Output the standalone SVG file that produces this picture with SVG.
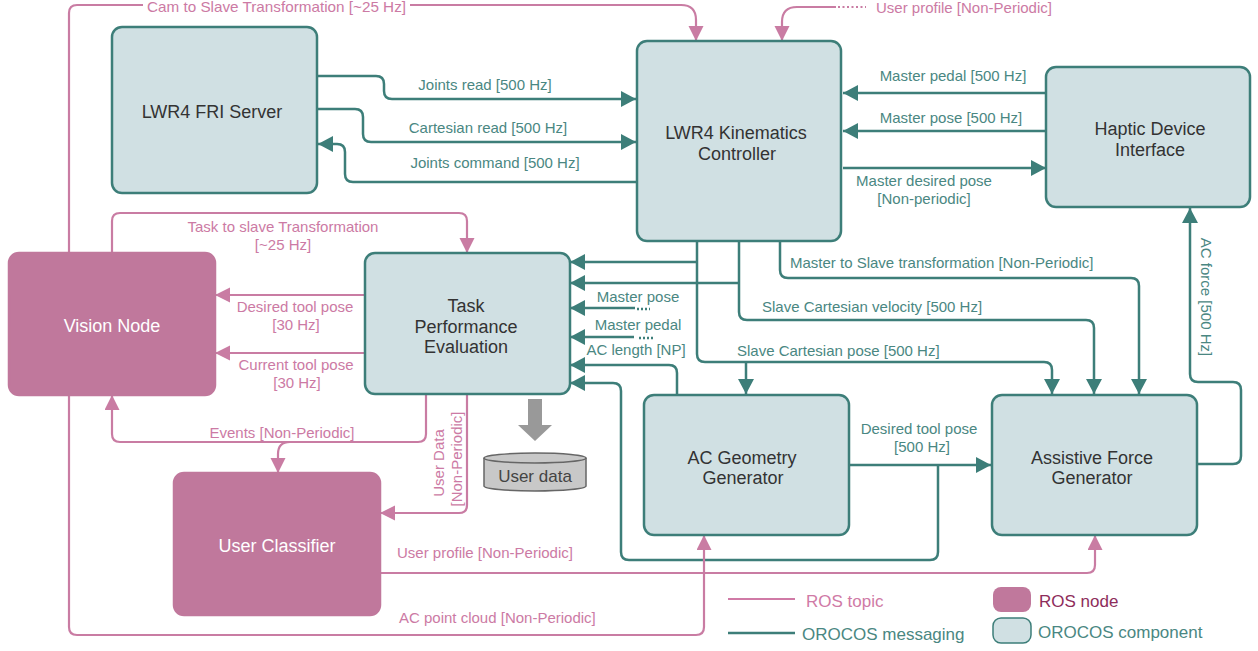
<svg xmlns="http://www.w3.org/2000/svg" width="1258" height="651" viewBox="0 0 1258 651">
<style>
.comp rect{fill:#d0e0e3;stroke:#3d7e79;stroke-width:2.5}
.ros rect{fill:#c0789c;stroke:#c0789c;stroke-width:2.5}
.nt{font-family:"Liberation Sans",Arial,sans-serif;font-size:18px;text-anchor:middle;fill:#333}
.rt{font-family:"Liberation Sans",Arial,sans-serif;font-size:18px;text-anchor:middle;fill:#fff}
.t{fill:none;stroke:#3d7e79;stroke-width:2.5}
.p{fill:none;stroke:#c97ca3;stroke-width:2.2}
.lt{font-family:"Liberation Sans",Arial,sans-serif;font-size:15px;fill:#4a8782}
.lp{font-family:"Liberation Sans",Arial,sans-serif;font-size:15px;fill:#cc7aa4}
.m{text-anchor:middle}
.lg{font-family:"Liberation Sans",Arial,sans-serif;font-size:17px}
</style>
<defs>
<marker id="at" markerUnits="userSpaceOnUse" markerWidth="16" markerHeight="16" refX="15" refY="8" orient="auto"><path d="M0,0 L15,8 L0,16 z" fill="#3d7e79"/></marker>
<marker id="ap" markerUnits="userSpaceOnUse" markerWidth="16" markerHeight="16" refX="15" refY="7.5" orient="auto"><path d="M0,0 L15,7.5 L0,15 z" fill="#c97ca3"/></marker>
</defs>

<g id="connectors">
<!-- OROCOS -->
<path class="t" marker-end="url(#at)" d="M317,76 H376 Q384,76 384,84 V91 Q384,99 392,99 H636"/>
<path class="t" marker-end="url(#at)" d="M317,109 H355 Q363,109 363,117 V134 Q363,142 371,142 H636"/>
<path class="t" marker-end="url(#at)" d="M636,182 H353 Q345,182 345,174 V152 Q345,144 337,144 H318"/>
<path class="t" marker-end="url(#at)" d="M1046,93 H843"/>
<path class="t" marker-end="url(#at)" d="M1046,131 H843"/>
<path class="t" marker-end="url(#at)" d="M843,168 H1046"/>
<path class="t" marker-end="url(#at)" d="M1197,464 H1233 Q1241,464 1241,456 V390 Q1241,382 1233,382 H1198 Q1190,382 1190,374 V208"/>
<path class="t" marker-end="url(#at)" d="M780,241 V270 Q780,278 788,278 H1131 Q1139,278 1139,286 V394"/>
<path class="t" marker-end="url(#at)" d="M739,241 V312 Q739,320 747,320 H1086 Q1094,320 1094,328 V394"/>
<path class="t" marker-end="url(#at)" d="M697,241 V354 Q697,362 705,362 H1044 Q1052,362 1052,370 V394"/>
<path class="t" marker-end="url(#at)" d="M746,362 V394"/>
<path class="t" marker-end="url(#at)" d="M697,262 H570"/>
<path class="t" marker-end="url(#at)" d="M739,283 H570"/>
<path class="t" marker-end="url(#at)" d="M635,308 H570"/>
<path class="t" stroke-dasharray="2,2" d="M637,309 H650"/>
<path class="t" marker-end="url(#at)" d="M634,337 H570"/>
<path class="t" stroke-dasharray="2,2" d="M639,338 H653"/>
<path class="t" marker-end="url(#at)" d="M677,394 V373 Q677,365 669,365 H570"/>
<path class="t" marker-end="url(#at)" d="M849,465 H991"/>
<path class="t" marker-end="url(#at)" d="M938,465 V552 Q938,560 930,560 H629 Q621,560 621,552 V391 Q621,383 613,383 H570"/>
<!-- ROS -->
<path class="p" marker-end="url(#ap)" d="M69,253 V13 Q69,5 77,5 H681 Q696,5 696,20 V41"/>
<rect x="143" y="-3" width="267" height="17" fill="#fff"/>
<path class="p" marker-end="url(#ap)" d="M836,7 H797 Q782,7 782,22 V41"/>
<path class="p" stroke-dasharray="2,2.5" d="M838,7 H866"/>
<path class="p" marker-end="url(#ap)" d="M112,253 V221 Q112,213 120,213 H459 Q467,213 467,221 V253"/>
<path class="p" marker-end="url(#ap)" d="M365,295 H215"/>
<path class="p" marker-end="url(#ap)" d="M365,353 H215"/>
<path class="p" marker-end="url(#ap)" d="M426,395 V434 Q426,442 418,442 H120 Q112,442 112,434 V395"/>
<path class="p" marker-end="url(#ap)" d="M290,442 Q278,442 278,454 V473"/>
<path class="p" marker-end="url(#ap)" d="M467,395 V505 Q467,513 459,513 H380"/>
<path class="p" marker-end="url(#ap)" d="M380,573 H1087 Q1095,573 1095,565 V535"/>
<path class="p" marker-end="url(#ap)" d="M69,395 V627 Q69,635 77,635 H696 Q704,635 704,627 V535"/>

<!-- labels -->
<text class="lp" x="147" y="12" style="font-size:14.5px" textLength="259" lengthAdjust="spacingAndGlyphs">Cam to Slave Transformation [~25 Hz]</text>
<text class="lp" x="876" y="13">User profile [Non-Periodic]</text>
<text class="lt m" x="485" y="90">Joints read [500 Hz]</text>
<text class="lt m" x="488" y="133">Cartesian read [500 Hz]</text>
<text class="lt m" x="495" y="168">Joints command [500 Hz]</text>
<text class="lt m" x="953" y="81">Master pedal [500 Hz]</text>
<text class="lt m" x="951" y="123">Master pose [500 Hz]</text>
<text class="lt m" x="924" y="186">Master desired pose</text>
<text class="lt m" x="924" y="204">[Non-periodic]</text>
<text class="lp m" x="283" y="232">Task to slave Transformation</text>
<text class="lp m" x="283" y="250">[~25 Hz]</text>
<text class="lp m" x="295" y="312">Desired tool pose</text>
<text class="lp m" x="296" y="330">[30 Hz]</text>
<text class="lp m" x="296" y="370">Current tool pose</text>
<text class="lp m" x="297" y="388">[30 Hz]</text>
<text class="lt" x="790" y="268">Master to Slave transformation [Non-Periodic]</text>
<text class="lt" x="762" y="312">Slave Cartesian velocity [500 Hz]</text>
<text class="lt" x="737" y="356">Slave Cartesian pose [500 Hz]</text>
<text class="lt m" x="638" y="302">Master pose</text>
<text class="lt m" x="638" y="330">Master pedal</text>
<text class="lt m" x="636" y="355">AC length [NP]</text>
<text class="lt m" x="919" y="434">Desired tool pose</text>
<text class="lt m" x="922" y="452">[500 Hz]</text>
<text class="lt m" transform="translate(1201,297) rotate(90)">AC force [500 Hz]</text>
<text class="lp m" x="282" y="438">Events [Non-Periodic]</text>
<text class="lp m" transform="translate(444,463) rotate(-90)">User Data</text>
<text class="lp m" transform="translate(462,459) rotate(-90)">[Non-Periodic]</text>
<text class="lp" x="397" y="558">User profile [Non-Periodic]</text>
<text class="lp" x="399" y="623">AC point cloud [Non-Periodic]</text>
</g>

<g id="lwr4-fri-server" class="comp">
<rect x="112" y="27" width="205" height="166" rx="10"/>
<text class="nt" x="212" y="118">LWR4 FRI Server</text>
</g>
<g id="lwr4-kinematics-controller" class="comp">
<rect x="637" y="41" width="204" height="200" rx="10"/>
<text class="nt" x="736" y="139">LWR4 Kinematics</text>
<text class="nt" x="737" y="160">Controller</text>
</g>
<g id="haptic-device-interface" class="comp">
<rect x="1046" y="67" width="204" height="140" rx="10"/>
<text class="nt" x="1150" y="135">Haptic Device</text>
<text class="nt" x="1150" y="156">Interface</text>
</g>
<g id="vision-node" class="ros">
<rect x="9" y="253" width="206" height="142" rx="10"/>
<text class="rt" x="112" y="332">Vision Node</text>
</g>
<g id="task-performance-evaluation" class="comp">
<rect x="365" y="253" width="205" height="141" rx="10"/>
<text class="nt" x="466" y="312">Task</text>
<text class="nt" x="466" y="333">Performance</text>
<text class="nt" x="466" y="353">Evaluation</text>
</g>
<g id="ac-geometry-generator" class="comp">
<rect x="644" y="395" width="205" height="140" rx="10"/>
<text class="nt" x="742" y="464">AC Geometry</text>
<text class="nt" x="743" y="484">Generator</text>
</g>
<g id="assistive-force-generator" class="comp">
<rect x="992" y="395" width="205" height="140" rx="10"/>
<text class="nt" x="1092" y="464">Assistive Force</text>
<text class="nt" x="1092" y="484">Generator</text>
</g>
<g id="user-classifier" class="ros">
<rect x="174" y="473" width="206" height="142" rx="10"/>
<text class="rt" x="277" y="552">User Classifier</text>
</g>
<g id="user-data">
<path d="M528,399 H542 V425 H552 L535,441 L518,425 H528 Z" fill="#999"/>
<path d="M484,458 V486 A51,5 0 0 0 586,486 V458" fill="#c8c8c8" stroke="#666" stroke-width="1.5"/>
<ellipse cx="535" cy="458" rx="51" ry="5" fill="#c8c8c8" stroke="#666" stroke-width="1.5"/>
<text x="535" y="482" font-family="Liberation Sans, Arial, sans-serif" font-size="17" text-anchor="middle" fill="#444">User data</text>
</g>

<g id="legend">
<path d="M728,599 H795" stroke="#d07aa6" stroke-width="2.2"/>
<text class="lg" x="806" y="607" fill="#d07aa6">ROS topic</text>
<path d="M728,633 H795" stroke="#3d7e79" stroke-width="2.5"/>
<text class="lg" x="802" y="640" fill="#4a8782">OROCOS messaging</text>
<rect x="993" y="587" width="38" height="25" rx="8" fill="#c0789c"/>
<text class="lg" x="1039" y="607" fill="#8e2d5b">ROS node</text>
<rect x="993" y="618" width="38" height="25" rx="8" fill="#d0e0e3" stroke="#3d7e79" stroke-width="1.5"/>
<text class="lg" x="1038" y="638" fill="#4a8782">OROCOS component</text>
</g>
</svg>
